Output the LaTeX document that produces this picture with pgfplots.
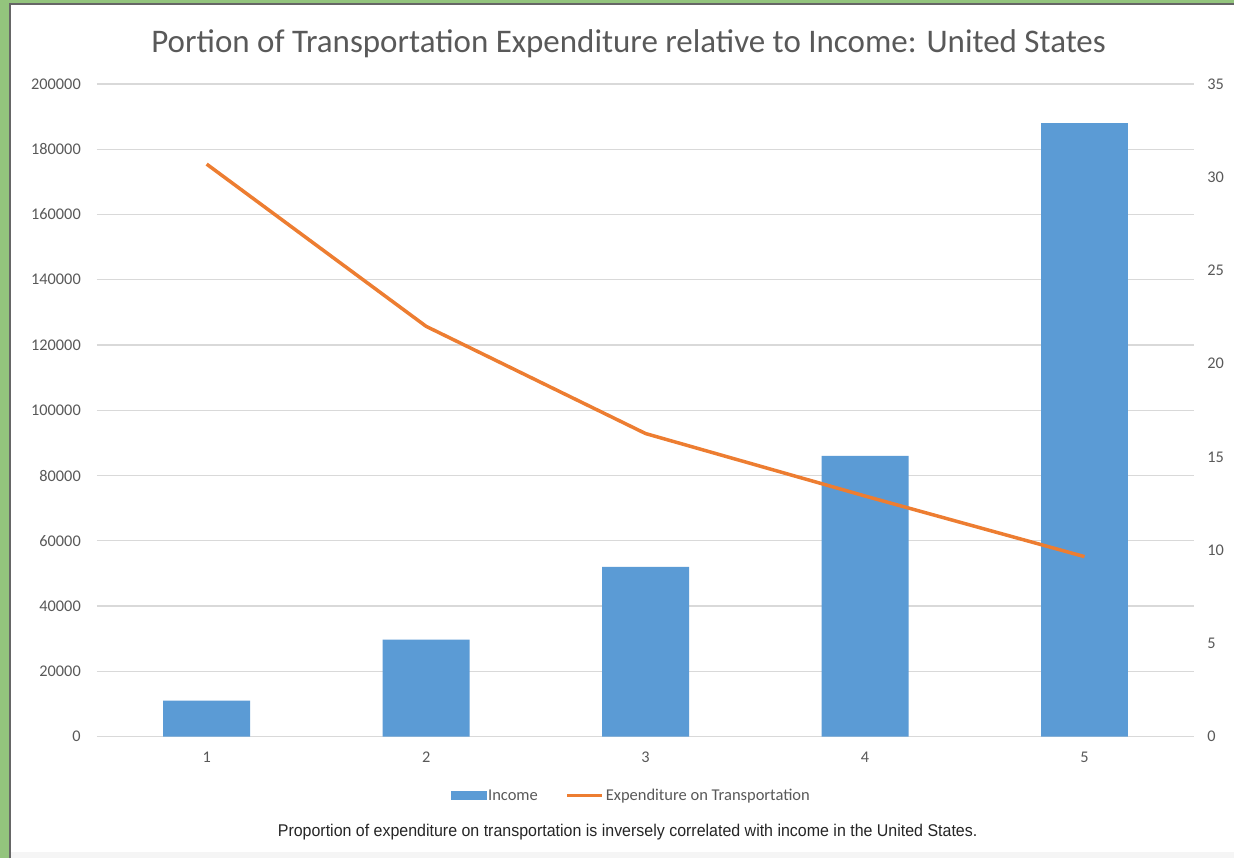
\documentclass[border=0pt]{standalone}
\usepackage{fontspec}
\setmainfont{Carlito}
\newfontfamily\capfont[FakeStretch=0.94]{Liberation Sans}
\usepackage{pgfplots}
\pgfplotsset{compat=1.18}

\definecolor{barblue}{HTML}{5B9BD5}
\definecolor{lineorange}{HTML}{ED7D31}
\definecolor{gridgray}{HTML}{D9D9D9}
\definecolor{txtgray}{HTML}{595959}
\definecolor{framegreen}{HTML}{93C47D}

\pgfplotsset{
  base/.style={
    scale only axis,
    width=1098pt, height=653pt,
    at={(97pt,122pt)}, anchor=south west,
    xmin=0.5, xmax=5.5,
    axis line style={draw=none},
    major tick length=0pt,
    tick label style={font=\fontsize{16.3}{19}\selectfont, text=txtgray, inner sep=0pt},
    /pgf/number format/assume math mode=true,
    /pgf/number format/fixed,
    /pgf/number format/precision=0,
    /pgf/number format/1000 sep={},
    scaled y ticks=false,
  }
}

\begin{document}
\begin{tikzpicture}[x=1pt,y=1pt]
% frame
\fill[framegreen] (0,0) rectangle (1235,859);
\fill[white] (10,0) rectangle (1235,855);
\fill[black!4] (10,0) rectangle (1235,6);
\draw[black!60, line width=1.5pt] (10,0) -- (10,855) -- (1235,855);

% title
\node[text=txtgray, font=\fontsize{33}{38}\selectfont] at (629,815) {Portion of Transportation Expenditure relative to Income: United States};

% caption
\node[text=black!85, font=\capfont\fontsize{17}{20}\selectfont] at (628,26) {Proportion of expenditure on transportation is inversely correlated with income in the United States.};

% income bars, left axis
\begin{axis}[base,
    ymin=0, ymax=200000,
    ytick={0,20000,...,200000},
    xtick={1,2,3,4,5},
    ymajorgrids,
    grid style={gridgray, line width=1.2pt},
    yticklabel style={xshift=-16pt},
    xticklabel style={yshift=-15pt},
]
\addplot[ybar, bar width=87pt, fill=barblue, draw=none]
  coordinates {(1,11000) (2,29700) (3,52000) (4,86000) (5,188000)};
\end{axis}

% transportation share, right axis
\begin{axis}[base,
    ymin=0, ymax=35,
    ytick={0,5,...,35},
    axis y line*=right,
    hide x axis,
    yticklabel style={xshift=13pt, anchor=west},
    legend columns=2,
    legend style={at={(0.487,-0.0904)}, anchor=center, draw=none, fill=none,
      font=\fontsize{16.5}{19}\selectfont, text=txtgray,
      /tikz/every even column/.append style={column sep=26pt},
      nodes={inner sep=2pt}},
]
\addlegendimage{legend image code/.code={\fill[barblue] (-3pt,-4pt) rectangle (32pt,4pt);}}
\addlegendentry{Income}
\addplot[lineorange, line width=3.5pt, line join=round,
  legend image code/.code={\draw[lineorange, line width=3pt] (-3pt,0pt) -- (32pt,0pt);}]
  coordinates {(1,30.7) (2,22.0) (3,16.25) (4,12.9) (5,9.65)};
\addlegendentry{Expenditure on Transportation}
\end{axis}
\end{tikzpicture}
\end{document}
